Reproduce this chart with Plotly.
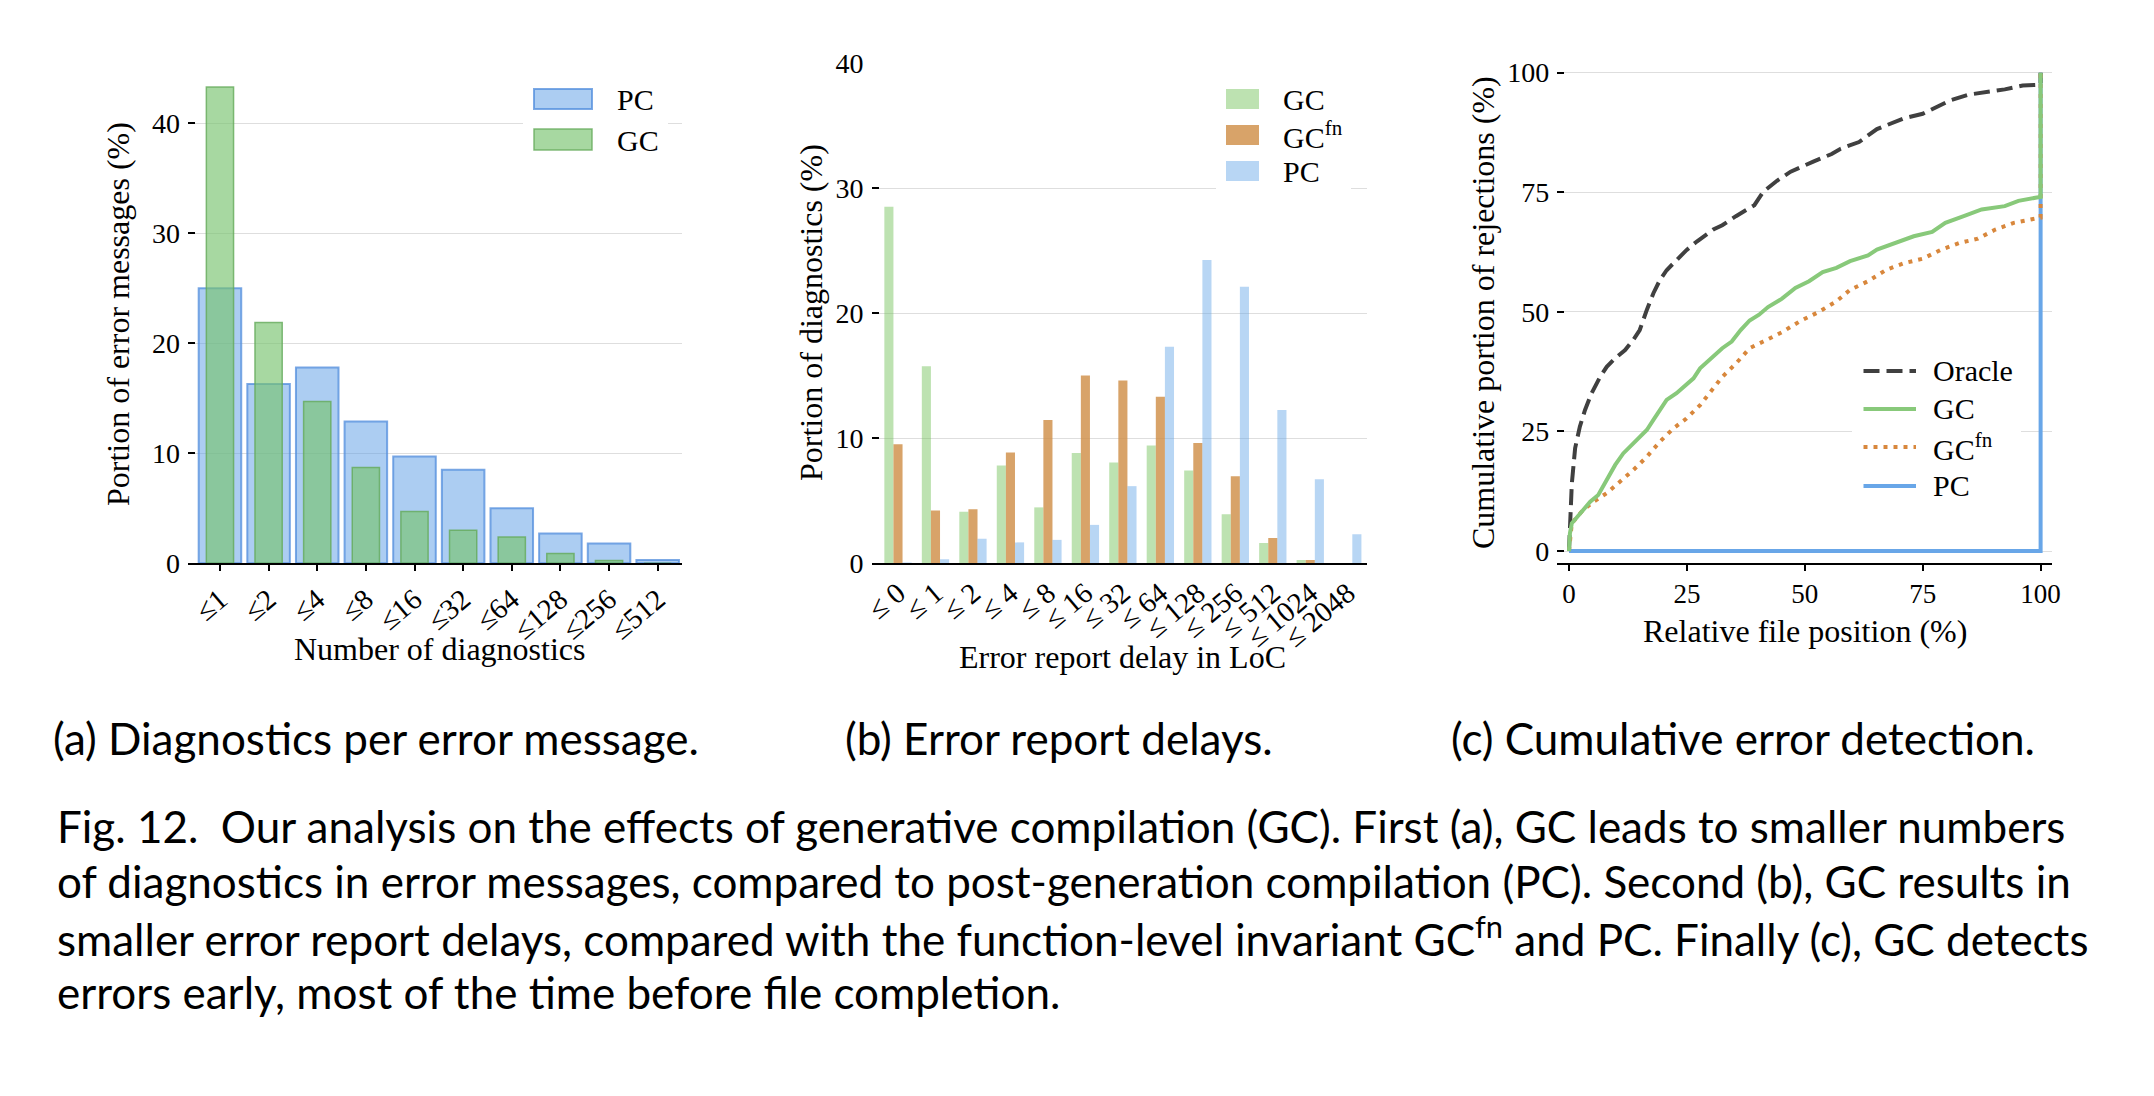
import plotly.graph_objects as go

W, H = 2154, 1096

# (a) diagnostics per error message
diag_bins = ["≤1", "≤2", "≤4", "≤8", "≤16", "≤32", "≤64", "≤128", "≤256", "≤512"]
diag_pc = [25.0, 16.3, 17.8, 12.9, 9.7, 8.5, 5.0, 2.7, 1.8, 0.3]
diag_gc = [43.3, 21.9, 14.7, 8.7, 4.7, 3.0, 2.4, 0.9, 0.25, 0.0]

# (b) error report delays
delay_bins = ["≤ 0", "≤ 1", "≤ 2", "≤ 4", "≤ 8", "≤ 16", "≤ 32", "≤ 64",
              "≤ 128", "≤ 256", "≤ 512", "≤ 1024", "≤ 2048"]
delay_gc = [28.5, 15.75, 4.1, 7.8, 4.45, 8.8, 8.05, 9.4, 7.4, 3.9, 1.6, 0.25, 0.0]
delay_gcfn = [9.5, 4.2, 4.3, 8.85, 11.45, 15.0, 14.6, 13.3, 9.6, 6.95, 2.0, 0.25, 0.0]
delay_pc = [0.05, 0.3, 1.95, 1.65, 1.85, 3.05, 6.15, 17.3, 24.25, 22.1, 12.25, 6.7, 2.3]

# (c) cumulative error detection
oracle_x = [0, 0.2, 0.6, 1.3, 2.3, 3.4, 4.8, 6.6, 8, 9.8, 11.9, 13.6, 15, 16.5, 17.9,
            19.3, 20.7, 22.8, 24.9, 27.1, 30.6, 32.5, 35.4, 39.3, 41.2, 44.1, 47, 51.8,
            55.7, 57.6, 61.5, 65.3, 69.2, 71.1, 75, 77, 80.8, 84.7, 88.5, 92.4, 96.2,
            99.3, 100, 100]
oracle_y = [0, 5.8, 14.1, 21.5, 26, 29.5, 33, 36.4, 38.5, 40.3, 42, 44.1, 46.2, 50.4,
            53.9, 56.7, 58.7, 60.8, 62.9, 64.7, 67.2, 68.1, 70, 72.3, 75.1, 77.4, 79.3,
            81.4, 83, 84.1, 85.5, 88.2, 89.6, 90.5, 91.4, 92.4, 94.2, 95.4, 95.9, 96.5,
            97.3, 97.5, 97.5, 100]
gc_x = [0, 0.2, 0.6, 2.3, 4.5, 6.2, 8, 9.8, 11.5, 13.3, 15, 16.5, 17.9, 19.3, 20.7,
        22.8, 24.9, 26.4, 27.8, 30.6, 32.5, 34.5, 36.4, 38.3, 40.3, 42.2, 45.1, 48,
        50.9, 53.8, 56.7, 59.6, 63.4, 65.3, 69.2, 73.1, 77, 79.8, 83.7, 87.5, 92.4,
        95.3, 99.2, 100, 100]
gc_y = [0, 3.7, 5.8, 7.9, 10.3, 11.7, 14.8, 18, 20.4, 22.2, 23.6, 25.3, 27.4, 29.5,
        31.6, 33, 34.7, 36.1, 38.2, 40.6, 42.4, 43.8, 46.2, 48.2, 49.4, 51, 52.7, 55,
        56.4, 58.3, 59.2, 60.6, 61.8, 63, 64.4, 65.8, 66.7, 68.6, 70, 71.4, 72.1, 73.2,
        73.9, 74, 100]
gcfn_x = [0, 0.6, 3, 5.2, 8, 10.8, 13.6, 16.5, 19.3, 22.1, 24.9, 27.8, 32.5, 35.4,
          38.3, 41.2, 45.1, 48.9, 52.8, 56.7, 59.6, 63.4, 67.3, 71.1, 75, 78.9, 82.8,
          86.7, 90.4, 94.3, 99.2, 100, 100]
gcfn_y = [0, 5.8, 8.6, 10.3, 12.1, 14.5, 16.9, 19.7, 22.9, 25.6, 27.7, 30.5, 36.4,
          39.2, 42.4, 43.8, 45.7, 48, 49.9, 52.2, 54.6, 56.4, 58.8, 60.2, 61.1, 63,
          64.4, 65.3, 67.2, 68.6, 69.5, 69.7, 100]
pc_x = [0, 100, 100]
pc_y = [0, 0, 100]

SERIF = "Liberation Serif"
SANS = "Lato"

# colours
A_PC_FILL, A_PC_EDGE = "rgba(90,155,230,0.5)", "rgba(80,140,220,0.75)"
A_GC_FILL, A_GC_EDGE = "rgba(120,195,110,0.65)", "rgba(100,170,90,0.8)"
B_GC, B_GCFN, B_PC = "rgba(108,191,82,0.45)", "rgba(206,140,68,0.8)", "rgba(97,164,231,0.45)"
C_ORACLE, C_GC, C_GCFN, C_PC = "#404040", "#88c97a", "#d8873c", "#68a6e8"


def px(x):
    return x / W


def py(y):
    return 1 - y / H


fig = go.Figure()

# ---- (a)
fig.add_trace(go.Bar(x=diag_bins, y=diag_pc, width=0.875, xaxis="x", yaxis="y",
                     marker=dict(color=A_PC_FILL, line=dict(color=A_PC_EDGE, width=2))))
fig.add_trace(go.Bar(x=diag_bins, y=diag_gc, width=0.56, xaxis="x", yaxis="y",
                     marker=dict(color=A_GC_FILL, line=dict(color=A_GC_EDGE, width=1.5))))

# ---- (b)
bw = 0.243
for vals, col, off in [(delay_gc, B_GC, -1.5 * bw), (delay_gcfn, B_GCFN, -0.5 * bw),
                       (delay_pc, B_PC, 0.5 * bw)]:
    fig.add_trace(go.Bar(x=delay_bins, y=vals, width=bw, offset=off, xaxis="x2", yaxis="y2",
                         marker=dict(color=col, line=dict(width=0))))

# ---- (c)
fig.add_trace(go.Scatter(x=pc_x, y=pc_y, mode="lines", xaxis="x3", yaxis="y3",
                         line=dict(color=C_PC, width=4)))
fig.add_trace(go.Scatter(x=oracle_x, y=oracle_y, mode="lines", xaxis="x3", yaxis="y3",
                         line=dict(color=C_ORACLE, width=4, dash="16px,7px")))
fig.add_trace(go.Scatter(x=gcfn_x, y=gcfn_y, mode="lines", xaxis="x3", yaxis="y3",
                         line=dict(color=C_GCFN, width=4, dash="4px,6px")))
fig.add_trace(go.Scatter(x=gc_x, y=gc_y, mode="lines", xaxis="x3", yaxis="y3",
                         line=dict(color=C_GC, width=4)))

xtickfont = dict(family=SERIF, size=29, color="black")
ytickfont = dict(family=SERIF, size=28, color="black")
xcommon = dict(showline=True, linecolor="black", linewidth=1.5, showgrid=False,
               zeroline=False, tickfont=xtickfont, tickcolor="black", tickwidth=1.5,
               automargin=False)
ycommon = dict(showline=False, showgrid=True, gridcolor="#dedede", gridwidth=1,
               zeroline=False, ticks="inside", ticklen=7, tickwidth=1.5, tickcolor="black",
               tickfont=ytickfont, ticklabelstandoff=7, automargin=False)

fig.update_layout(
    width=W, height=H, margin=dict(l=0, r=0, t=0, b=0, pad=0, autoexpand=False),
    paper_bgcolor="white", plot_bgcolor="white", barmode="overlay", showlegend=False,
    xaxis=dict(xcommon, domain=[px(188), px(682)], range=[-0.657, 9.5], type="category",
               ticks="outside", ticklen=6, tickangle=-40, anchor="y"),
    yaxis=dict(ycommon, domain=[py(563.3), py(63.1)], range=[0, 45.47],
               tickvals=[0, 10, 20, 30, 40], anchor="x"),
    xaxis2=dict(xcommon, domain=[px(871.5), px(1366.5)], range=[-0.707, 12.5],
                type="category", ticks="", tickangle=-40, anchor="y2"),
    yaxis2=dict(ycommon, domain=[py(563), py(63)], range=[0, 40],
                tickvals=[0, 10, 20, 30, 40], anchor="x2"),
    xaxis3=dict(xcommon, domain=[px(1557.2), px(2052.4)], range=[-2.5, 102.5],
                ticks="outside", ticklen=6, tickvals=[0, 25, 50, 75, 100], anchor="y3",
                tickfont=dict(family=SERIF, size=27, color="black")),
    yaxis3=dict(ycommon, domain=[py(563), py(60.7)], range=[-2.5, 102.5],
                tickvals=[0, 25, 50, 75, 100], anchor="x3"),
)

shapes = []
annotations = []


def label(text, x, y, size=30, family=SERIF, xanchor="center", angle=0):
    annotations.append(dict(text=text, x=px(x), y=py(y), xref="paper", yref="paper",
                            xanchor=xanchor, yanchor="middle", showarrow=False,
                            textangle=angle, font=dict(family=family, size=size, color="black")))


def rect(x0, y0, x1, y1, fill, edge=None, ew=0):
    shapes.append(dict(type="rect", xref="paper", yref="paper", x0=px(x0), x1=px(x1),
                       y0=py(y0), y1=py(y1), fillcolor=fill, layer="above",
                       line=dict(color=edge or fill, width=ew)))


def hline(x0, x1, y, color, dash="solid"):
    shapes.append(dict(type="line", xref="paper", yref="paper", x0=px(x0), x1=px(x1),
                       y0=py(y), y1=py(y), layer="above",
                       line=dict(color=color, width=4, dash=dash)))


# axis titles
label("Portion of error messages (%)", 118, 314, size=32, angle=-90)
label("Number of diagnostics", 439.5, 649, size=32)
label("Portion of diagnostics (%)", 811, 313, size=32, angle=-90)
label("Error report delay in LoC", 1122.8, 657, size=32)
label("Cumulative portion of rejections (%)", 1483, 313, size=32, angle=-90)
label("Relative file position (%)", 1805, 631, size=32)

# legend (a)
rect(523, 78, 668, 160, "white")
rect(534, 89, 592, 109, A_PC_FILL, A_PC_EDGE, 2)
rect(534, 129, 592, 150, A_GC_FILL, A_GC_EDGE, 1.5)
label("PC", 615, 99, xanchor="left")
label("GC", 615, 140, xanchor="left")

# legend (b)
rect(1216, 78, 1351, 192, "white")
for (y0, col, txt) in [(89, B_GC, "GC"), (125, B_GCFN, "GC<sup>fn</sup>"), (161, B_PC, "PC")]:
    rect(1226, y0, 1259, y0 + 20, col)
    label(txt, 1281, y0 + 10, xanchor="left")

# legend (c)
rect(1852, 352, 2021, 505, "white")
for (y, col, dash, txt) in [(371, C_ORACLE, "16px,7px", "Oracle"), (409, C_GC, "solid", "GC"),
                            (447, C_GCFN, "4px,6px", "GC<sup>fn</sup>"), (486, C_PC, "solid", "PC")]:
    hline(1863.5, 1916, y, col, dash)
    label(txt, 1931, y, xanchor="left")

# sub-captions
label("(a) Diagnostics per error message.", 376, 738, size=44, family=SANS)
label("(b) Error report delays.", 1059, 738, size=44, family=SANS)
label("(c) Cumulative error detection.", 1742.6, 738, size=44, family=SANS)

caption = [
    "Fig. 12.\u00a0 Our analysis on the effects of generative compilation (GC). First (a), GC leads to smaller numbers",
    "of diagnostics in error messages, compared to post-generation compilation (PC). Second (b), GC results in",
    "smaller error report delays, compared with the function-level invariant GC<sup>fn</sup> and PC. Finally (c), GC detects",
    "errors early, most of the time before file completion.",
]
for i, line in enumerate(caption):
    label(line, 55, 826 + i * 55.4, size=44, family=SANS, xanchor="left")

fig.update_layout(shapes=shapes, annotations=annotations)

fig.write_html("out.html", config={"displayModeBar": False},
               post_script="document.body.style.margin='0';")
